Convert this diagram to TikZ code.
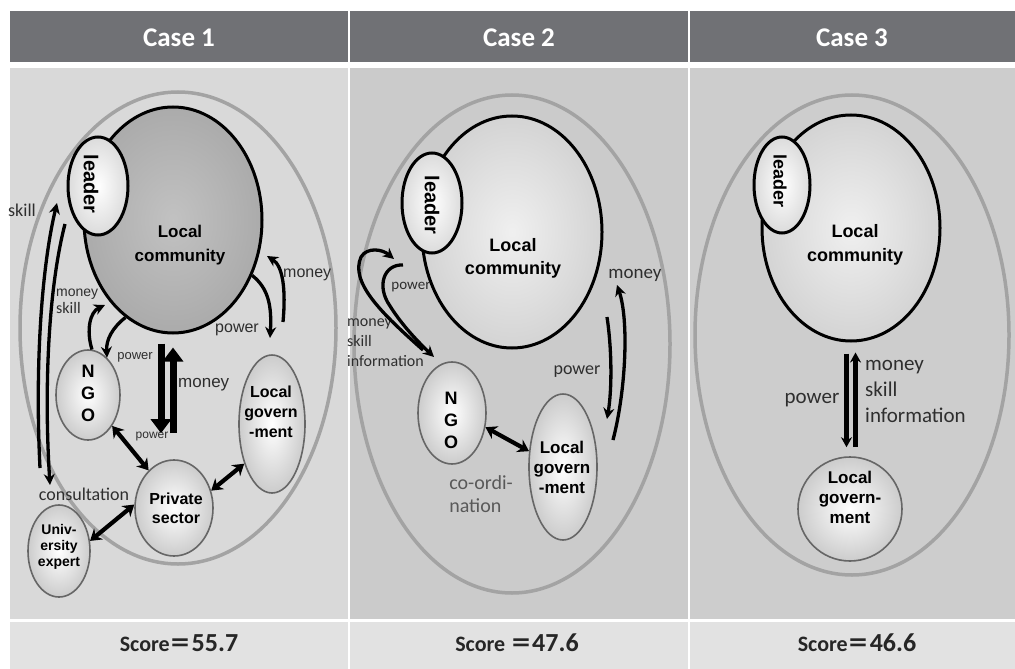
\documentclass[tikz,border=0pt]{standalone}
\usepackage{fontspec}
\setmainfont{Liberation Sans}
\newfontfamily\calfont{Carlito}
\newfontfamily\cjkfont{Noto Sans CJK SC}
\usetikzlibrary{shapes.geometric,arrows.meta,calc}
\newcommand\myfs[2]{\fontsize{#1}{#2}\selectfont}
\definecolor{hdr}{HTML}{707175}
\definecolor{bodyA}{HTML}{D9D9D9}
\definecolor{bodyB}{HTML}{CBCBCB}
\definecolor{bodyC}{HTML}{CDCDCD}
\definecolor{scorebg}{HTML}{E2E2E2}
\definecolor{lbltxt}{HTML}{2E2E2E}
\tikzset{
 outerell/.style={ellipse, draw=black!36, line width=3.5pt, inner sep=0},
 comm/.style={ellipse, draw=black, line width=3pt, inner sep=0, inner color=black!6, outer color=black!17},
 commdark/.style={ellipse, draw=black, line width=3pt, inner sep=0, inner color=black!24, outer color=black!33},
 lead/.style={ellipse, draw=black, line width=3pt, inner sep=0, inner color=white, outer color=black!14},
 actor/.style={ellipse, draw=black!60, line width=1.6pt, inner sep=0, inner color=white, outer color=black!20},
 ntxt/.style={align=center, inner sep=0, text=black},
 lbl/.style={inner sep=0, text=lbltxt, align=left},
 hdrtxt/.style={font=\calfont\bfseries\myfs{27}{30}, text=white, inner sep=0},
 scoretxt/.style={font=\calfont\bfseries, text=black!85, inner sep=0},
 arr/.style={line width=3.3pt, -{Stealth[length=11pt,width=11pt]}},
 dbl/.style={line width=4.2pt, {Stealth[length=11pt,width=14pt]}-{Stealth[length=11pt,width=14pt]}},
 bigarr/.style={line width=7pt, -{Triangle[length=14pt,width=20pt]}},
}
\begin{document}
\begin{tikzpicture}[x=1pt,y=-1pt]
\useasboundingbox (0,0) rectangle (1015,669);
\fill[white] (0,0) rectangle (1015,669);
% header
\fill[hdr] (10,11) rectangle (1015,62);
\draw[white, line width=2pt] (349,11) -- (349,62) (689,11) -- (689,62);
\node[hdrtxt] (h1) at (179,38) {Case 1};
\node[hdrtxt] (h2) at (519,38) {Case 2};
\node[hdrtxt] (h3) at (852,38) {Case 3};
% bodies
\fill[bodyA] (10,68) rectangle (348,619);
\fill[bodyB] (350,68) rectangle (688,619);
\fill[bodyC] (690,68) rectangle (1015,619);
% score row
\fill[scorebg] (10,622) rectangle (348,669);
\fill[scorebg] (350,622) rectangle (688,669);
\fill[scorebg] (690,622) rectangle (1015,669);
\node[scoretxt] (sc1) at (179,643) {{\myfs{22}{24}Score}{\cjkfont\myfs{22}{24}＝}{\myfs{26}{28}55.7}};
\node[scoretxt] (sc2) at (517,643) {{\myfs{22}{24}Score }{\cjkfont\myfs{22}{24}＝}{\myfs{26}{28}47.6}};
\node[scoretxt] (sc3) at (857,643) {{\myfs{22}{24}Score}{\cjkfont\myfs{22}{24}＝}{\myfs{26}{28}46.6}};

% ================= CASE 1 =================
\node[outerell, minimum width=316pt, minimum height=472pt] (out1) at (178,328) {};
\node[commdark, minimum width=178pt, minimum height=226pt] (comm1) at (173,220) {};
\node[lead, minimum width=60pt, minimum height=98pt] (lead1) at (98,186) {};
\node[ntxt, rotate=-90, font=\bfseries\myfs{20}{22}] (lt1) at (91,184) {leader};
\node[ntxt, font=\bfseries\myfs{17}{24}] (ct1) at (180,245) {Local\\community};
\node[actor, minimum width=64pt, minimum height=90pt] (ngo1) at (88,395) {};
\node[ntxt, font=\bfseries\myfs{18}{22}] (nt1) at (88,393) {N\\G\\O};
\node[actor, minimum width=66pt, minimum height=138pt] (lg1) at (272,424) {};
\node[ntxt, font=\bfseries\myfs{16}{20}] (lgt1) at (271,412) {Local\\govern\\-ment};
\node[actor, minimum width=78pt, minimum height=96pt] (priv1) at (174,508) {};
\node[ntxt, font=\bfseries\myfs{16}{19}] (pt1) at (176,508) {Private\\sector};
\node[actor, minimum width=62pt, minimum height=92pt] (univ1) at (59,551) {};
\node[ntxt, font=\bfseries\myfs{14}{16}] (ut1) at (59,547) {Univ-\\ersity\\expert};

% labels case 1
\node[lbl, font=\calfont\myfs{18}{20}] (l1skill) at (22,210) {skill};
\node[lbl, font=\calfont\myfs{18}{20}] (l1cons) at (84,494) {consultation};
\node[lbl, font=\myfs{16}{18}, anchor=west] (l1money) at (283,275) {money};
\node[lbl, font=\myfs{16}{18}] (l1power) at (237,330) {power};
\node[lbl, font=\myfs{14}{18}, anchor=west] (l1ms) at (56,301) {money\\[-1pt]{\calfont\myfs{16}{18}skill}};
\node[lbl, font=\myfs{13}{15}] (l1p2) at (135,357) {power};
\node[lbl, font=\myfs{17}{19}, anchor=west] (l1m3) at (178,385) {money};
\node[lbl, font=\myfs{12}{14}] (l1p3) at (152,437) {power};

% arrows case 1
\coordinate (s1a) at (40,468);
\coordinate (s1b) at (57,203);
\coordinate (s1c) at (65,224);
\coordinate (s1d) at (50,485);
\draw[arr] (s1a) .. controls (35,370) and (41,270) .. (s1b);
\draw[arr] (s1c) .. controls (48,290) and (44,390) .. (s1d);
\coordinate (m1a) at (283,322);
\coordinate (m1b) at (267,256);
\draw[arr] (m1a) .. controls (286,290) and (283,266) .. (m1b);
\coordinate (p1b) at (270,338);
\draw[arr] (comm1.-35) .. controls (268,288) and (272,305) .. (p1b);
\coordinate (ms1b) at (105,305);
\draw[arr] (ngo1.85) .. controls (86,330) and (90,312) .. (ms1b);
\draw[arr] (comm1.-116) .. controls (112,328) and (106,340) .. (ngo1.63);
\draw[bigarr, shorten <=9pt, shorten >=26pt] ([xshift=-12pt]comm1.south) -- ([xshift=-13pt]priv1.north);
\draw[bigarr, shorten <=26pt, shorten >=13pt] ([xshift=-1pt]priv1.north) -- ([xshift=0pt]comm1.south);
\draw[dbl] (ngo1.-52) -- (priv1.124);
\draw[dbl] (priv1.25) -- (lg1.-125);
\draw[dbl] (univ1.18) -- (priv1.175);

% ================= CASE 2 =================
\node[outerell, minimum width=316pt, minimum height=498pt] (out2) at (512,344) {};
\node[comm, minimum width=180pt, minimum height=232pt] (comm2) at (512,232) {};
\node[lead, minimum width=60pt, minimum height=100pt] (lead2) at (432,203) {};
\node[ntxt, rotate=-90, font=\bfseries\myfs{20}{22}] (lt2) at (432,205) {leader};
\node[ntxt, font=\bfseries\myfs{18}{23}] (ct2) at (513,258) {Local\\community};
\node[actor, minimum width=68pt, minimum height=102pt] (ngo2) at (452,413) {};
\node[ntxt, font=\bfseries\myfs{18}{22}] (nt2) at (451,420) {N\\G\\O};
\node[actor, minimum width=68pt, minimum height=146pt] (lg2) at (563,467) {};
\node[ntxt, font=\bfseries\myfs{17}{20}] (lgt2) at (562,467) {Local\\govern\\-ment};

\node[lbl, font=\calfont\myfs{15}{17}] (l2p) at (411,287) {power};
\node[lbl, font=\calfont\myfs{16}{20}, anchor=north west] (l2msi) at (347,319) {money\\skill\\information};
\node[lbl, font=\calfont\myfs{20}{23}, text=black!65] (l2co) at (481,494) {co-ordi-\\nation};
\node[lbl, font=\calfont\myfs{18}{20}] (l2p2) at (577,372) {power};
\node[lbl, font=\calfont\myfs{19}{21}] (l2m) at (635,275) {money};

\draw[dbl] (ngo2.-23) -- (lg2.155);
\coordinate (o2a) at (423,350);
\coordinate (o2b) at (394,259);
\draw[arr] (o2a) .. controls (380,312) and (350,282) .. (361,257) .. controls (367,247) and (382,249) .. (o2b);
\coordinate (i2a) at (403,265);
\coordinate (i2b) at (434,357);
\draw[arr] (i2a) .. controls (384,264) and (376,286) .. (390,306) .. controls (400,322) and (414,338) .. (i2b);
\coordinate (m2a) at (613,440);
\coordinate (m2b) at (617,285);
\draw[arr] (m2a) .. controls (626,390) and (629,320) .. (m2b);
\coordinate (p2a) at (607,317);
\coordinate (p2b) at (607,419);
\draw[arr] (p2a) .. controls (612,350) and (612,390) .. (p2b);

% ================= CASE 3 =================
\node[outerell, minimum width=314pt, minimum height=480pt] (out3) at (852,335) {};
\node[comm, minimum width=178pt, minimum height=226pt] (comm3) at (851,228) {};
\node[lead, minimum width=56pt, minimum height=96pt] (lead3) at (782,185) {};
\node[ntxt, rotate=-90, font=\bfseries\myfs{18}{20}] (lt3) at (780,181) {leader};
\node[ntxt, font=\bfseries\myfs{18}{24}] (ct3) at (855,245) {Local\\community};
\node[actor, minimum width=104pt, minimum height=104pt] (lg3) at (850,509) {};
\node[ntxt, font=\bfseries\myfs{17}{20}] (lgt3) at (850,497) {Local\\govern-\\ment};

\node[lbl, font=\calfont\myfs{21}{23}] (l3p) at (812,400) {power};
\node[lbl, font=\calfont\myfs{21}{26}, anchor=north west] (l3msi) at (865,360) {money\\skill\\information};

\draw[line width=4.5pt, -{Stealth[length=10pt,width=11pt]}, shorten <=11pt, shorten >=9pt] ([xshift=-4.5pt]comm3.south) -- ([xshift=-3.5pt]lg3.north);
\draw[line width=4.5pt, -{Stealth[length=10pt,width=11pt]}, shorten <=9pt, shorten >=10pt] ([xshift=5.5pt]lg3.north) -- ([xshift=4.5pt]comm3.south);
\end{tikzpicture}
\end{document}
